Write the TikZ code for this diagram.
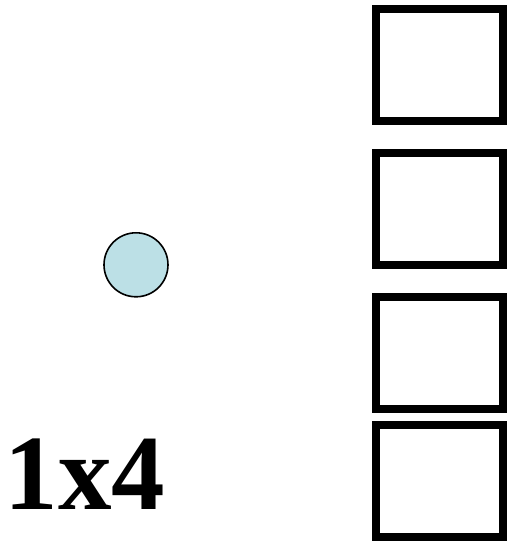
\documentclass[tikz,border=0pt]{standalone}
\usepackage{fontspec}
\setmainfont{Liberation Serif}
\definecolor{ballfill}{RGB}{188,224,230}
\tikzset{
  cell/.style={draw=black, line width=8pt, minimum width=127pt, minimum height=112pt, inner sep=0pt, outer sep=0pt},
  ball/.style={circle, draw=black, line width=1.6pt, fill=ballfill, minimum size=64pt, inner sep=0pt},
  label1/.style={anchor=base west, inner sep=0pt, font=\fontsize{107}{107}\selectfont\bfseries}
}
\begin{document}
\begin{tikzpicture}[x=1pt,y=1pt]
\useasboundingbox (0,0) rectangle (510,541);
\node[cell] (c1) at (439.5,476) {};
\node[cell] (c2) at (439.5,332.25) {};
\node[cell] (c3) at (439.5,188.25) {};
\node[cell] (c4) at (439.5,60.15) {};
\node[ball] (b) at (136,276.2) {};
\node[label1] (t) at (4.5,31.7) {1x4};
\end{tikzpicture}
\end{document}
